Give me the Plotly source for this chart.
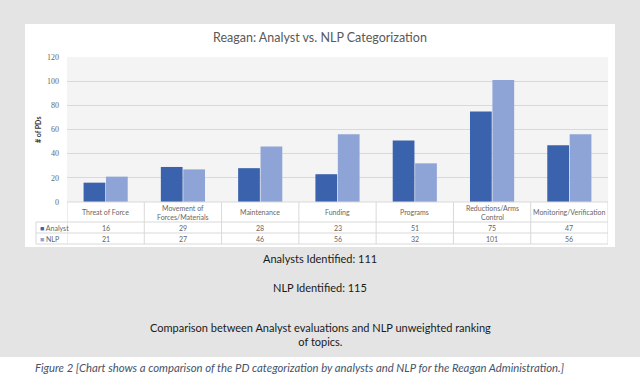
import plotly.graph_objects as go

categories = ["Threat of Force", "Movement of<br>Forces/Materials", "Maintenance", "Funding",
              "Programs", "Reductions/Arms<br>Control", "Monitoring/Verification"]
analyst = [16, 29, 28, 23, 51, 75, 47]
nlp = [21, 27, 46, 56, 32, 101, 56]
series_names = ["Analyst", "NLP"]
y_ticks = [0, 20, 40, 60, 80, 100, 120]
title = "Reagan: Analyst vs. NLP Categorization"
notes = ["Analysts Identified: 111", "NLP Identified: 115",
         "Comparison between Analyst evaluations and NLP unweighted ranking<br>of topics."]
caption = "Figure 2 [Chart shows a comparison of the PD categorization by analysts and NLP for the Reagan Administration.]"

C_A = "#3b62ad"
C_N = "#8fa4d6"
W, H = 640, 374
L, R, T, B = 67, 32, 57, 172
PW, PH = W - L - R, H - T - B
FONT = "Lato"
GRAY = "#666666"

def px(X):
    return (X - L) / PW

def py(Y):
    return (H - B - Y) / PH

xs = list(range(len(categories)))
fig = go.Figure()
fig.add_trace(go.Bar(x=xs, y=analyst, name=series_names[0], marker_color=C_A, marker_line_width=0))
fig.add_trace(go.Bar(x=xs, y=nlp, name=series_names[1], marker_color=C_N, marker_line_width=0))

shapes = []
shapes.append(dict(type="rect", xref="paper", yref="paper", x0=px(0), x1=px(W), y0=py(0), y1=py(357),
                   fillcolor="#e4e4e4", line_width=0, layer="below"))
shapes.append(dict(type="rect", xref="paper", yref="paper", x0=px(25), x1=px(615), y0=py(24), y1=py(247),
                   fillcolor="white", line_width=0, layer="below"))
shapes.append(dict(type="rect", xref="paper", yref="paper", x0=0, x1=1, y0=0, y1=1,
                   fillcolor="#f4f4f4", line_width=0, layer="below"))
LC = "#d9d9d9"
for Y, X0 in [(202, 67), (222, 36), (233, 36), (244, 36)]:
    shapes.append(dict(type="line", xref="paper", yref="paper", x0=px(X0), x1=1, y0=py(Y), y1=py(Y),
                       line=dict(color=LC, width=1)))
for i in range(len(categories) + 1):
    shapes.append(dict(type="line", xref="x", yref="paper", x0=i - 0.5, x1=i - 0.5, y0=0, y1=py(244),
                       line=dict(color=LC, width=1)))
shapes.append(dict(type="line", xref="paper", yref="paper", x0=px(36), x1=px(36), y0=py(222), y1=py(244),
                   line=dict(color=LC, width=1)))

ann = []
tf = dict(family=FONT, size=7, color=GRAY)

def add(x, y, text, font, xref="paper", xanchor="center", **kw):
    ann.append(dict(x=x, y=y, xref=xref, yref="paper", text=text, showarrow=False, font=font,
                    xanchor=xanchor, yanchor="middle", **kw))

for i, c in enumerate(categories):
    add(i, py(212), c, tf, xref="x")
    add(i, py(227.5), str(analyst[i]), tf, xref="x")
    add(i, py(238.5), str(nlp[i]), tf, xref="x")
for name, col, Y in [(series_names[0], C_A, 227.5), (series_names[1], C_N, 238.5)]:
    add(px(38), py(Y), f"<span style='color:{col}'>■</span> {name}", tf, xanchor="left")
add(px(38), py(130), "<b># of PDs</b>", dict(family=FONT, size=7, color="#333333"), textangle=-90)
add(px(320), py(38), title, dict(family=FONT, size=12.5, color="#595959"))
for txt, Y in zip(notes, [258, 287, 334]):
    add(px(320), py(Y), txt, dict(family=FONT, size=11, color="#1a1a1a"))
add(px(33), py(367), f"<i>{caption}</i>", dict(family=FONT, size=11.3, color="#44546a"), xanchor="left")

fig.update_layout(
    width=W, height=H, margin=dict(l=L, r=R, t=T, b=B, pad=0),
    paper_bgcolor="white", plot_bgcolor="rgba(0,0,0,0)",
    barmode="group", bargap=0.42, bargroupgap=0.03,
    showlegend=False, shapes=shapes, annotations=ann,
    xaxis=dict(range=[-0.5, len(categories) - 0.5], showticklabels=False, showgrid=False, zeroline=False,
               showline=False, ticks=""),
    yaxis=dict(range=[0, 120], tickvals=y_ticks, showgrid=True, gridcolor=LC, gridwidth=1, zeroline=False,
               showline=False, ticks="", ticklabelstandoff=7,
               tickfont=dict(family="Liberation Serif", size=8, color=GRAY)),
)
fig.write_html("out.html", config={"displayModeBar": False},
               post_script="document.body.style.margin='0';document.body.style.overflow='hidden';")
